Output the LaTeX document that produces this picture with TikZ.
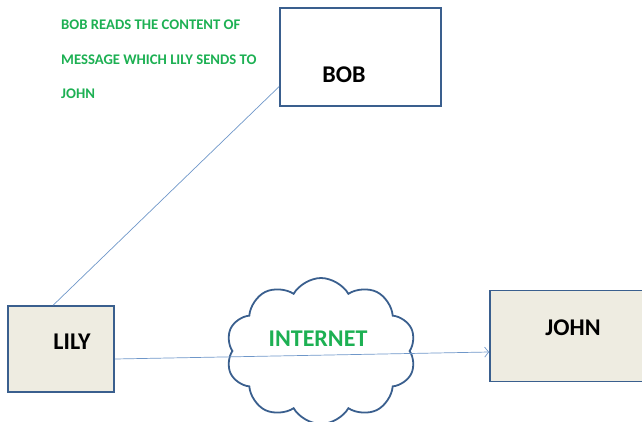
\documentclass[tikz,border=0pt]{standalone}
\usepackage{fontspec}
\setmainfont{Carlito}
\usetikzlibrary{shapes.symbols,arrows.meta}
\definecolor{boxblue}{HTML}{3A5F8E}
\definecolor{lineblue}{HTML}{6F97C9}
\definecolor{boxfill}{HTML}{EEECE1}
\definecolor{notegreen}{HTML}{1DB053}

\begin{document}
\begin{tikzpicture}[x=1pt, y=-1pt,
		person/.style={draw=boxblue, line width=1.8pt, rectangle, inner sep=0pt},
		personname/.style={font=\fontsize{24}{28}\selectfont\bfseries},
		note/.style={anchor=west, inner sep=0pt, text=notegreen, font=\fontsize{14.7}{17}\selectfont\bfseries},
		link/.style={draw=lineblue, line width=0.7pt}]
	\useasboundingbox (0,0) rectangle (642,421);

	\node[person, fill=white, minimum width=161pt, minimum height=98pt] (bob) at (360.5,57) {};
	\node[personname] (boblabel) at (344,75) {BOB};
	\node[person, fill=boxfill, minimum width=106pt, minimum height=86pt] (lily) at (61,349) {};
	\node[personname] (lilylabel) at (72,342) {LILY};
	\node[person, fill=boxfill, minimum width=176pt, minimum height=91pt] (john) at (578,336) {};
	\node[personname] (johnlabel) at (573,328) {JOHN};

	\node[cloud, draw=boxblue, line width=1.8pt, cloud puffs=10, cloud puff arc=120, aspect=1.3,
		minimum width=190pt, minimum height=146pt] (net) at (321,351) {};
	\node[personname, text=notegreen] (netlabel) at (318,339) {INTERNET};

	\node[note] (note1) at (61,25) {BOB READS THE CONTENT OF};
	\node[note] (note2) at (61,60) {MESSAGE WHICH LILY SENDS TO};
	\node[note] (note3) at (61,94) {JOHN};

	\draw[link] (lily.100) -- (bob.200); % bob listens in
	\draw[link, -{Straight Barb[length=4pt, width=10pt]}] ([yshift=-10pt]lily.east) -- ([yshift=-16pt]john.west); % lily to john
\end{tikzpicture}
\end{document}
